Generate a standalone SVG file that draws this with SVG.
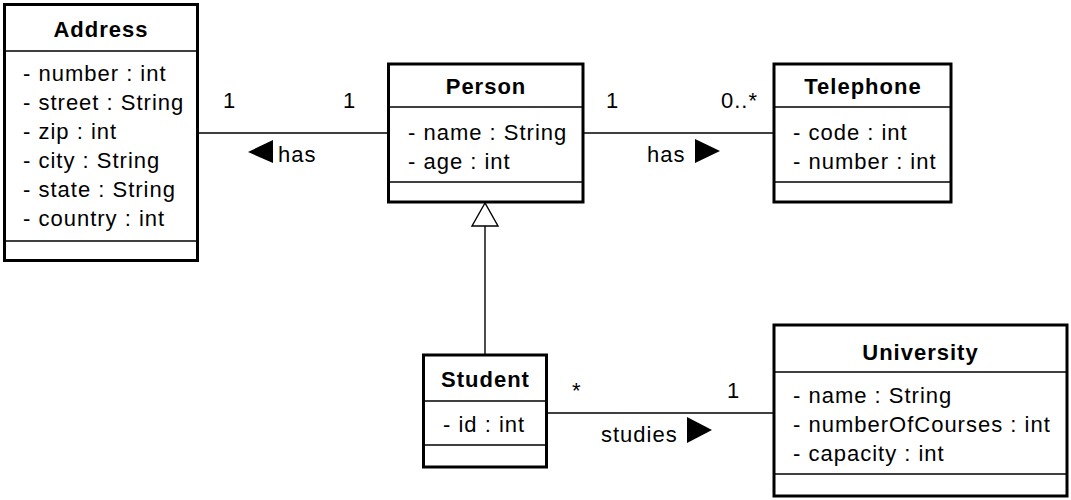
<svg xmlns="http://www.w3.org/2000/svg" width="1071" height="500" viewBox="0 0 1071 500">
  <style>
    .box { fill: #ffffff; stroke: #000000; stroke-width: 3; }
    .sep { stroke: #000000; stroke-width: 1.3; fill: none; }
    .edge { stroke: #000000; stroke-width: 1.4; fill: none; }
    .title { font-family: "Liberation Sans", Arial, sans-serif; font-size: 22px; font-weight: bold; text-anchor: middle; letter-spacing: 1px; fill: #000; }
    .attr { font-family: "Liberation Sans", Arial, sans-serif; font-size: 22px; letter-spacing: 1px; fill: #000; }
    .lbl { font-family: "Liberation Sans", Arial, sans-serif; font-size: 22px; letter-spacing: 1px; fill: #000; }
    .dir { fill: #000000; }
    .gen { fill: #ffffff; stroke: #000000; stroke-width: 1.4; }
  </style>
  <rect width="1071" height="500" fill="#ffffff"/>

  <!-- connectors -->
  <g id="connectors">
    <!-- Address <-has- Person -->
    <g id="edge-person-address">
      <line class="edge" x1="197" y1="133" x2="388" y2="133"/>
      <text class="lbl" x="223" y="108">1</text>
      <text class="lbl" x="343" y="108">1</text>
      <polygon class="dir" points="248,152 273,140 273,163"/>
      <text class="lbl" x="278" y="162">has</text>
    </g>
    <!-- Person -has-> Telephone -->
    <g id="edge-person-telephone">
      <line class="edge" x1="583" y1="133" x2="774" y2="133"/>
      <text class="lbl" x="606" y="108">1</text>
      <text class="lbl" x="721" y="108">0..*</text>
      <text class="lbl" x="647" y="162">has</text>
      <polygon class="dir" points="695,139 695,163 720,151"/>
    </g>
    <!-- Student generalizes Person -->
    <g id="edge-student-person">
      <line class="edge" x1="485" y1="355" x2="485" y2="226"/>
      <polygon class="gen" points="485,203 472,226 498,226"/>
    </g>
    <!-- Student -studies-> University -->
    <g id="edge-student-university">
      <line class="edge" x1="546" y1="413" x2="774" y2="413"/>
      <text class="lbl" x="572" y="398">*</text>
      <text class="lbl" x="727" y="398">1</text>
      <text class="lbl" x="601" y="442">studies</text>
      <polygon class="dir" points="687,417 687,443 712,430"/>
    </g>
  </g>

  <!-- Address -->
  <g id="address">
    <rect class="box" x="4.5" y="4.5" width="193" height="256"/>
    <line class="sep" x1="4.5" y1="51" x2="197.5" y2="51"/>
    <line class="sep" x1="4.5" y1="241" x2="197.5" y2="241"/>
    <text class="title" x="101" y="37">Address</text>
    <text class="attr" x="23" y="81">- number : int</text>
    <text class="attr" x="23" y="110">- street : String</text>
    <text class="attr" x="23" y="139">- zip : int</text>
    <text class="attr" x="23" y="168">- city : String</text>
    <text class="attr" x="23" y="197">- state : String</text>
    <text class="attr" x="23" y="226">- country : int</text>
  </g>

  <!-- Person -->
  <g id="person">
    <rect class="box" x="388.5" y="64" width="194.5" height="138"/>
    <line class="sep" x1="388.5" y1="107" x2="583" y2="107"/>
    <line class="sep" x1="388.5" y1="182" x2="583" y2="182"/>
    <text class="title" x="486" y="94">Person</text>
    <text class="attr" x="408" y="140">- name : String</text>
    <text class="attr" x="408" y="169">- age : int</text>
  </g>

  <!-- Telephone -->
  <g id="telephone">
    <rect class="box" x="774" y="64" width="177" height="138"/>
    <line class="sep" x1="774" y1="107" x2="951" y2="107"/>
    <line class="sep" x1="774" y1="182" x2="951" y2="182"/>
    <text class="title" x="863" y="94">Telephone</text>
    <text class="attr" x="793" y="140">- code : int</text>
    <text class="attr" x="793" y="169">- number : int</text>
  </g>

  <!-- Student -->
  <g id="student">
    <rect class="box" x="423.5" y="355" width="123" height="112"/>
    <line class="sep" x1="423.5" y1="401" x2="546.5" y2="401"/>
    <line class="sep" x1="423.5" y1="445" x2="546.5" y2="445"/>
    <text class="title" x="485.5" y="387">Student</text>
    <text class="attr" x="443" y="432">- id : int</text>
  </g>

  <!-- University -->
  <g id="university">
    <rect class="box" x="774" y="325" width="293" height="171"/>
    <line class="sep" x1="774" y1="372" x2="1067" y2="372"/>
    <line class="sep" x1="774" y1="474" x2="1067" y2="474"/>
    <text class="title" x="920.5" y="360">University</text>
    <text class="attr" x="793" y="403">- name : String</text>
    <text class="attr" x="793" y="432">- numberOfCourses : int</text>
    <text class="attr" x="793" y="461">- capacity : int</text>
  </g>
</svg>
